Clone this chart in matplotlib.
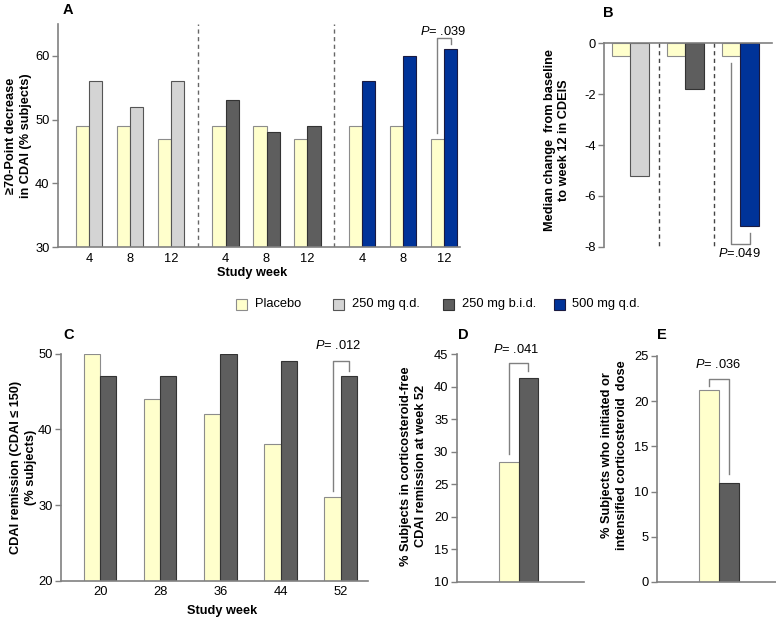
import numpy as np
import matplotlib
matplotlib.use('Agg')
import matplotlib.pyplot as plt
from matplotlib.patches import Rectangle

plt.rcParams['font.family'] = ['Liberation Sans', 'DejaVu Sans']
plt.rcParams['mathtext.fontset'] = 'custom'
plt.rcParams['mathtext.it'] = 'Liberation Sans:italic'
plt.rcParams['mathtext.rm'] = 'Liberation Sans'
plt.rcParams['axes.unicode_minus'] = False
FS = 9.3
LFS = 9.2

# Data
weeks_a = ['4', '8', '12']
placebo_a = [49, 49, 47]
qd250_a = [56, 52, 56]
bid250_a = [53, 48, 49]
qd500_a = [56, 60, 61]

placebo_b = [-0.5, -0.5, -0.5]
drug_b = [-5.2, -1.8, -7.2]

weeks_c = ['20', '28', '36', '44', '52']
placebo_c = [50, 44, 42, 38, 31]
bid250_c = [47, 47, 50, 49, 47]

placebo_d = 28.5
bid250_d = 41.3
placebo_e = 21.2
bid250_e = 11.0

legend_labels = ['Placebo', '250 mg q.d.', '250 mg b.i.d.', '500 mg q.d.']

# Colours
c_pla = '#FFFFCC'
c_qd250 = '#D4D4D4'
c_bid = '#5E5E5E'
c_qd500 = '#003399'
fills = [c_pla, c_qd250, c_bid, c_qd500]
edges = ['#8c8c8c', '#555555', '#333333', '#1a1a40']
spine_col = '#808080'
br_col = '#808080'

W, H = 776, 620
fig = plt.figure(figsize=(W / 100, H / 100), dpi=100)


def add_axes(left, right, top, bottom):
    return fig.add_axes([left / W, 1 - bottom / H, (right - left) / W, (bottom - top) / H])


def style(ax, show_bottom=True):
    ax.spines['right'].set_visible(False)
    ax.spines['top'].set_visible(False)
    for s in ['left', 'bottom', 'top']:
        ax.spines[s].set_color(spine_col)
        ax.spines[s].set_linewidth(1.2)
    if not show_bottom:
        ax.spines['bottom'].set_visible(False)
    ax.tick_params(axis='y', length=4, width=1, color=spine_col, pad=2, labelsize=FS)
    ax.tick_params(axis='x', length=0, pad=4, labelsize=FS)


def ylab(ax, text, x, y):
    ax.set_ylabel(text, fontweight='bold', fontsize=LFS, linespacing=1.3)
    ax.yaxis.set_label_coords(x, y)


def bracket(ax, x1, x2, y1, ytop, y2, label, tx, ty):
    ax.plot([x1, x1, x2, x2], [y1, ytop, ytop, y2], color=br_col, lw=1, clip_on=False)
    ax.text(tx, ty, label, ha='center', va='center', fontsize=FS, clip_on=False)


# Panel A
ax = add_axes(58, 460, 24, 247)
style(ax)
w = 0.325
offsets = [0, 3.33, 6.66]
drugs_a = [qd250_a, bid250_a, qd500_a]
ticks, ticklabels = [], []
for g, (off, vals) in enumerate(zip(offsets, drugs_a)):
    x = np.arange(3) + off
    ax.bar(x - w / 2, placebo_a, w, color=c_pla, edgecolor=edges[0], lw=0.8)
    ax.bar(x + w / 2, vals, w, color=fills[g + 1], edgecolor=edges[g + 1], lw=0.8)
    ticks += list(x)
    ticklabels += weeks_a
for xd in [2.665, 5.98]:
    ax.plot([xd, xd], [30, 65], color='#666666', lw=1, ls=(0, (3, 2.5)))
ax.set_xticks(ticks)
ax.set_xticklabels(ticklabels)
ax.set_xlim(-0.756, 9.05)
ax.set_ylim(30, 65)
ax.set_yticks([30, 40, 50, 60])
ylab(ax, '\u226570-Point decrease\nin CDAI (% subjects)', -26 / 402, 0.5)
ax.set_xlabel('Study week', fontweight='bold', fontsize=LFS)
ax.xaxis.set_label_coords(0.482, -0.09)
bracket(ax, 8.66 - w / 2, 8.66 + w / 2, 47.9, 62.8, 61.9, '$P$= .039', 8.63, 63.9)

# Panel B
ax = add_axes(604.3, 771.7, 43.3, 246.7)
style(ax, show_bottom=False)
ax.spines['top'].set_visible(True)
wb = 0.336
xb = np.arange(3)
ax.bar(xb - wb / 2, placebo_b, wb, color=c_pla, edgecolor=edges[0], lw=0.8)
ax.bar(xb + wb / 2, drug_b, wb, color=fills[1:], edgecolor=edges[1:], lw=0.8)
for xd in [0.52, 1.53]:
    ax.plot([xd, xd], [0, -8.05], color='#444444', lw=1, ls=(0, (3, 2.5)), clip_on=False)
ax.set_xlim(-0.47, 2.57)
ax.set_ylim(-8, 0)
ax.set_xticks([])
ax.set_yticks([0, -2, -4, -6, -8])
ylab(ax, 'Median change  from baseline\nto week 12 in CDEIS', -0.203, 0.525)
bracket(ax, 2 - wb / 2, 2 + wb / 2, -0.79, -7.91, -7.48, '$P$=.049', 1.985, -8.27)

# Panel C
ax = add_axes(61, 368.3, 353.7, 580.7)
style(ax)
wc = 0.27
xc = np.arange(len(weeks_c))
ax.bar(xc - wc / 2, placebo_c, wc, color=c_pla, edgecolor=edges[0], lw=0.8)
ax.bar(xc + wc / 2, bid250_c, wc, color=c_bid, edgecolor=edges[2], lw=0.8)
ax.set_xticks(xc)
ax.set_xticklabels(weeks_c)
ax.set_xlim(-0.65, 4.46)
ax.set_ylim(20, 50)
ax.set_yticks([20, 30, 40, 50])
ylab(ax, 'CDAI remission (CDAI \u2264 150)\n(% subjects)', -0.078, 0.5)
ax.set_xlabel('Study week', fontweight='bold', fontsize=LFS)
ax.xaxis.set_label_coords(0.523, -0.105)
bracket(ax, 4 - wc / 2, 4 + wc / 2, 31.9, 49.06, 47.7, '$P$= .012', 3.95, 51.1)

# Panel D
ax = add_axes(456.7, 584.3, 354.3, 582)
style(ax)
ax.bar([-0.5], [placebo_d], 1, color=c_pla, edgecolor=edges[0], lw=0.8)
ax.bar([0.5], [bid250_d], 1, color=c_bid, edgecolor=edges[2], lw=0.8)
ax.set_xlim(-3.18, 3.36)
ax.set_ylim(10, 45)
ax.set_xticks([])
ax.set_yticks(np.arange(10, 46, 5))
ylab(ax, '% Subjects in corticosteroid-free\nCDAI remission at week 52', -0.235, 0.51)
bracket(ax, -0.5, 0.5, 29.6, 43.6, 42.5, '$P$= .041', -0.15, 45.7)

# Panel E
ax = add_axes(656.7, 776.7, 356, 582)
style(ax)
ax.bar([-0.5], [placebo_e], 1, color=c_pla, edgecolor=edges[0], lw=0.8)
ax.bar([0.5], [bid250_e], 1, color=c_bid, edgecolor=edges[2], lw=0.8)
ax.set_xlim(-3.13, 2.87)
ax.set_ylim(0, 25)
ax.set_xticks([])
ax.set_yticks(np.arange(0, 26, 5))
ylab(ax, '% Subjects who initiated or\nintensified corticosteroid  dose', -0.239, 0.562)
bracket(ax, -0.5, 0.5, 21.7, 22.45, 12.0, '$P$= .036', -0.07, 24.1)

# Panel letters
for letter, px, py in [('A', 63, 9.5), ('B', 603, 13), ('C', 63, 335), ('D', 458, 335), ('E', 657, 335)]:
    fig.text(px / W, 1 - py / H, letter, fontweight='bold', fontsize=10.5, ha='left', va='center')

# Legend
sq_x = [236, 333, 443, 554]
tx_x = [255, 352, 462, 572]
for lab, sx, txx, fc, ec in zip(legend_labels, sq_x, tx_x, fills, edges):
    fig.patches.append(Rectangle((sx / W, 1 - 309.5 / H), 11 / W, 11 / H,
                                 transform=fig.transFigure, facecolor=fc, edgecolor=ec, lw=0.8))
    fig.text(txx / W, 1 - 304 / H, lab, fontsize=FS, ha='left', va='center')

fig.savefig('out.png', dpi=100)
